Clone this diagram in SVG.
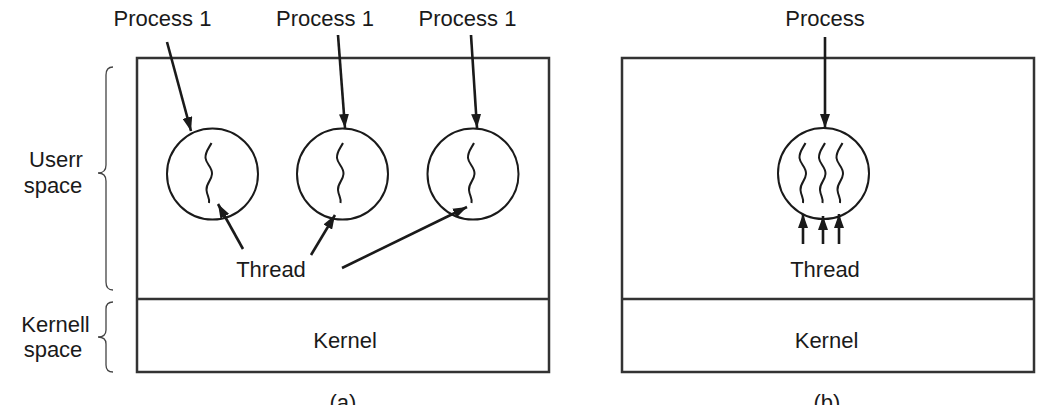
<svg xmlns="http://www.w3.org/2000/svg" xmlns:xlink="http://www.w3.org/1999/xlink" width="1037" height="405" viewBox="0 0 1037 405">
<style>
text{font-family:"Liberation Sans",Arial,sans-serif;font-size:22px;fill:#1a1a1a;}
.box{fill:none;stroke:#333;stroke-width:2.5;}
.circ{fill:none;stroke:#1a1a1a;stroke-width:2;}
.sq{fill:none;stroke:#1a1a1a;stroke-width:2;}
.arr{fill:none;stroke:#1a1a1a;stroke-width:2.6;marker-end:url(#ah);}
.brace{fill:none;stroke:#444;stroke-width:1.3;}
</style>
<defs>
<marker id="ah" viewBox="0 0 14 10" refX="14" refY="5" markerWidth="14" markerHeight="10" markerUnits="userSpaceOnUse" orient="auto">
<path d="M0,0 L14,5 L0,10 Z" fill="#1a1a1a"/>
</marker>
<path id="squig" d="M1.5,0 C-1,5 -5,9 -4.5,15 C-4,21 2.5,24 2,31 C1.5,38 -4,40 -3.5,47 C-3,53 0,55 -1,60"/>
</defs>
<!-- side labels -->
<g id="user-space-label">
<text x="56" y="167" text-anchor="middle">Userr</text>
<text x="53" y="193" text-anchor="middle">space</text>
<path class="brace" d="M113,67 Q106,67 106,75 L106,165 Q106,173 98,173 Q106,173 106,181 L106,282 Q106,290 113,290"/>
</g>
<g id="kernel-space-label">
<text x="55.5" y="332" text-anchor="middle">Kernell</text>
<text x="53" y="357" text-anchor="middle">space</text>
<path class="brace" d="M113,302 Q106,302 106,309 L106,330 Q106,337 98,337 Q106,337 106,344 L106,365 Q106,372 113,372"/>
</g>
<!-- panel (a) -->
<g id="panel-a">
<rect class="box" x="137" y="58" width="412" height="314"/>
<line class="box" x1="137" y1="299" x2="549" y2="299"/>
<text x="345" y="348" text-anchor="middle">Kernel</text>
<text x="343" y="410" text-anchor="middle">(a)</text>
</g>
<g id="process-a1">
<text x="162.5" y="26" text-anchor="middle">Process 1</text>
<circle class="circ" cx="212.5" cy="174" r="45.5"/>
<use xlink:href="#squig" class="sq" x="210" y="143"/>
</g>
<g id="process-a2">
<text x="325" y="26" text-anchor="middle">Process 1</text>
<circle class="circ" cx="342.5" cy="174" r="45.5"/>
<use xlink:href="#squig" class="sq" x="341.5" y="143"/>
</g>
<g id="process-a3">
<text x="467.5" y="26" text-anchor="middle">Process 1</text>
<circle class="circ" cx="473" cy="174" r="45.5"/>
<use xlink:href="#squig" class="sq" x="472.5" y="143"/>
</g>
<g id="thread-a">
<text x="271" y="277" text-anchor="middle">Thread</text>
</g>
<!-- panel (b) -->
<g id="panel-b">
<rect class="box" x="622" y="58" width="412" height="314"/>
<line class="box" x1="622" y1="299" x2="1034" y2="299"/>
<text x="826.5" y="347.5" text-anchor="middle">Kernel</text>
<text x="827" y="410" text-anchor="middle">(b)</text>
</g>
<g id="process-b">
<text x="825" y="26" text-anchor="middle">Process</text>
<circle class="circ" cx="823.5" cy="173.5" r="45.5"/>
<use xlink:href="#squig" class="sq" x="804" y="143"/>
<use xlink:href="#squig" class="sq" x="823.5" y="143"/>
<use xlink:href="#squig" class="sq" x="841" y="143"/>
</g>
<g id="thread-b">
<text x="825" y="277" text-anchor="middle">Thread</text>
</g>
<!-- connectors -->
<g id="connectors">
<line class="arr" x1="167" y1="42" x2="191" y2="131"/>
<line class="arr" x1="338" y1="35" x2="345" y2="128"/>
<line class="arr" x1="471" y1="35" x2="477" y2="128"/>
<line class="arr" x1="243" y1="249" x2="218" y2="204"/>
<line class="arr" x1="311" y1="255" x2="335" y2="215"/>
<line class="arr" x1="342" y1="268" x2="467" y2="207"/>
<line class="arr" x1="825" y1="37" x2="825" y2="128"/>
<line class="arr" x1="803" y1="244" x2="803" y2="214"/>
<line class="arr" x1="823" y1="244" x2="823" y2="216"/>
<line class="arr" x1="839" y1="244" x2="839" y2="214"/>
</g>
</svg>
